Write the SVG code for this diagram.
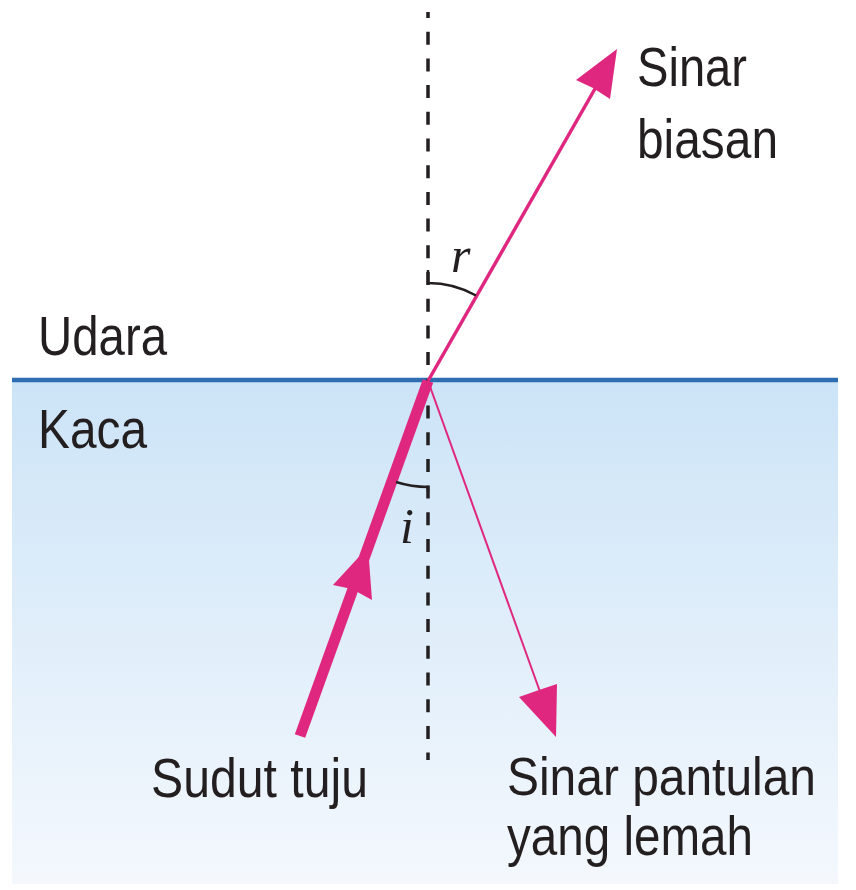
<svg xmlns="http://www.w3.org/2000/svg" width="856" height="890" viewBox="0 0 856 890">
  <defs>
    <linearGradient id="glassGrad" x1="0" y1="0" x2="0" y2="1">
      <stop offset="0" stop-color="#cce4f7"/>
      <stop offset="1" stop-color="#f4f8fd"/>
    </linearGradient>
    <style>
      .lbl { font-family: "Liberation Sans", Arial, sans-serif; font-size: 56px; fill: #231f20; }
      .ang { font-family: "Liberation Serif", "Times New Roman", serif; font-size: 50px; font-style: italic; fill: #231f20; }
      .ray { stroke: #e0277f; fill: none; }
      .head { fill: #e0277f; }
      .arc { stroke: #231f20; stroke-width: 2.5; fill: none; }
    </style>
  </defs>
  <rect width="856" height="890" fill="#ffffff"/>

  <g id="glass">
    <rect x="12" y="380" width="826" height="504" fill="url(#glassGrad)"/>
    <line x1="12" y1="380" x2="838" y2="380" stroke="#2f6db3" stroke-width="4.5"/>
  </g>

  <g id="normal">
    <line x1="428" y1="12" x2="428" y2="760" stroke="#231f20" stroke-width="3.5" stroke-dasharray="13 13.7" stroke-dashoffset="7"/>
  </g>

  <g id="connectors">
    <g id="incident-ray">
      <line class="ray" x1="300" y1="736" x2="428" y2="381" stroke-width="11"/>
      <polygon class="head" points="368,547 372,600 352,589 333,585"/>
    </g>
    <g id="refracted-ray">
      <line class="ray" x1="428" y1="381" x2="600" y2="80" stroke-width="3.5"/>
      <polygon class="head" points="617,49 610,99 593,88 576,80"/>
    </g>
    <g id="reflected-ray">
      <line class="ray" x1="428" y1="381" x2="543" y2="700" stroke-width="2"/>
      <polygon class="head" points="556,737 519,697 539,690 557,684"/>
    </g>
  </g>

  <g id="angle-r">
    <path class="arc" d="M428,270 L428,283 A98,98 0 0 1 476,295.5"/>
    <text class="ang" x="451" y="272">r</text>
  </g>
  <g id="angle-i">
    <path class="arc" d="M428,492 L428,487 A106,106 0 0 1 396,482"/>
    <text class="ang" x="400" y="543">i</text>
  </g>

  <g id="label-udara"><text class="lbl" x="38" y="355" textLength="129" lengthAdjust="spacingAndGlyphs">Udara</text></g>
  <g id="label-kaca"><text class="lbl" x="38" y="448" textLength="109" lengthAdjust="spacingAndGlyphs">Kaca</text></g>
  <g id="label-sinar-biasan">
    <text class="lbl" x="637" y="86" textLength="110" lengthAdjust="spacingAndGlyphs">Sinar</text>
    <text class="lbl" x="637" y="158" textLength="141" lengthAdjust="spacingAndGlyphs">biasan</text>
  </g>
  <g id="label-sudut-tuju"><text class="lbl" x="151" y="797" textLength="217" lengthAdjust="spacingAndGlyphs">Sudut tuju</text></g>
  <g id="label-sinar-pantulan">
    <text class="lbl" x="507" y="795" style="font-size:53px" textLength="309" lengthAdjust="spacingAndGlyphs">Sinar pantulan</text>
    <text class="lbl" x="507" y="855" textLength="246" lengthAdjust="spacingAndGlyphs">yang lemah</text>
  </g>
</svg>
